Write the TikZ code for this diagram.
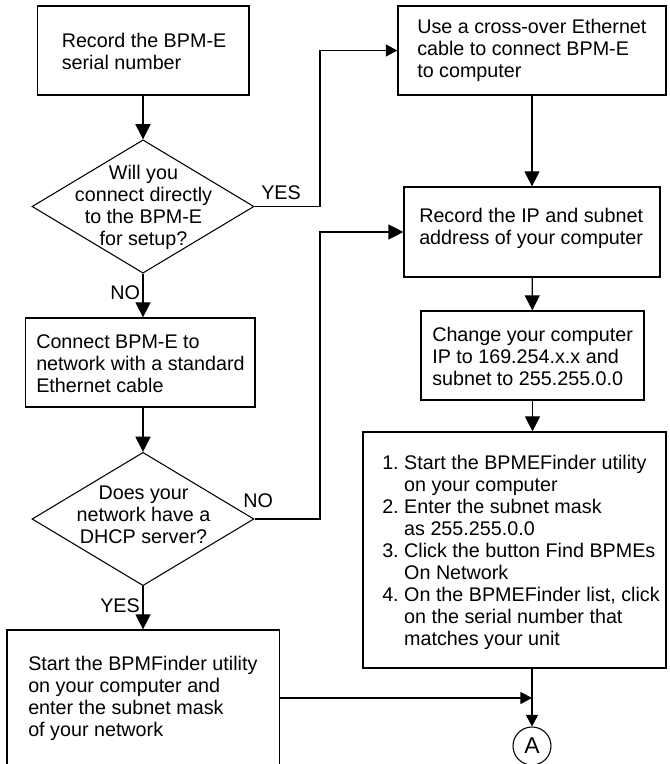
\documentclass[tikz,border=0pt]{standalone}
\usepackage{fontspec}
\setmainfont{Liberation Sans}
\usetikzlibrary{arrows.meta,shapes.geometric}
\tikzset{
  proc/.style={draw=black,rectangle,inner sep=0pt,line width=0.9pt},
  dec/.style={draw=black,diamond,inner sep=0pt,line width=0.8pt,minimum width=166.5pt,minimum height=100pt,aspect=1.67},
  conn/.style={draw=black,circle,inner sep=0pt,line width=0.8pt,minimum size=28.5pt},
  txt/.style={inner sep=0pt,align=left,anchor=base west,font=\frenchspacing\fontsize{14.8}{16.5}\selectfont},
  ctxt/.style={inner sep=0pt,align=center,anchor=base,font=\frenchspacing\fontsize{14.8}{16.5}\selectfont},
  lab/.style={inner sep=0pt,anchor=base west,font=\fontsize{14.8}{16.5}\selectfont},
  flow/.style={draw=black,line width=0.9pt,-{Triangle[length=11.3pt,width=11.3pt]}},
  flowsmall/.style={draw=black,line width=0.9pt,-{Triangle[length=8.7pt,width=9pt]}},
}
\begin{document}
\begin{tikzpicture}[x=0.75pt,y=-0.75pt]
\useasboundingbox (0,0) rectangle (669,764);
% boxes
\node[proc,minimum width=158.6pt,minimum height=66.8pt] (b1) at (143.2,50.5) {};
\node[dec] (d1) at (143,206.5) {};
\node[proc,minimum width=172pt,minimum height=66.8pt] (b2) at (140.3,362.5) {};
\node[dec] (d2) at (143,519) {};
\node[proc,minimum width=204.4pt,minimum height=102pt] (b3) at (143.2,698) {};
\node[proc,minimum width=201pt,minimum height=66.8pt] (r1) at (532,50.5) {};
\node[proc,minimum width=192pt,minimum height=67.5pt] (r2) at (532,232) {};
\node[proc,minimum width=167.3pt,minimum height=66.8pt] (r3) at (532.5,355.5) {};
\node[proc,minimum width=227.3pt,minimum height=177pt] (r4) at (514.5,550) {};
\node[conn] (a) at (532,746) {\fontsize{17.2}{17.2}\selectfont A};
% texts
\node[txt] (t1) at (61.5,69) {Record the BPM-E\\serial number};
\node[ctxt] (td1) at (143.5,245) {Will you\\connect directly\\to the BPM-E\\for setup?};
\node[txt] (t2) at (36,392) {Connect BPM-E to\\network with a standard\\Ethernet cable};
\node[ctxt] (td2) at (143.5,543) {Does your\\network have a\\DHCP server?};
\node[txt] (t3) at (28,736) {Start the BPMFinder utility\\on your computer and\\enter the subnet mask\\of your network};
\node[txt] (tr1) at (417,77) {Use a cross-over Ethernet\\cable to connect BPM-E\\to computer};
\node[txt] (tr2) at (419,244) {Record the IP and subnet\\address of your computer};
\node[txt] (tr3) at (432,385) {Change your computer\\IP to 169.254.x.x and\\subnet to 255.255.0.0};
\node[txt] (tr4) at (382,645) {1. Start the BPMEFinder utility\\
\phantom{1. }on your computer\\
2. Enter the subnet mask\\
\phantom{2. }as 255.255.0.0\\
3. Click the button Find BPMEs\\
\phantom{3. }On Network\\
4. On the BPMEFinder list, click\\
\phantom{4. }on the serial number that\\
\phantom{4. }matches your unit};
% branch labels
\node[lab] (yes1) at (261,199) {YES};
\node[lab] (no1) at (110,299) {NO};
\node[lab] (no2) at (243,507) {NO};
\node[lab] (yes2) at (100,612) {YES};
% bends and joins
\coordinate (e1) at (320,206.5);
\coordinate (e2) at (320,519);
% connectors
\draw[flow] (b1.south -| d1.north) -- (d1.north);
\draw[flow] (d1.south) -- (d1.south |- b2.north);
\draw[flow] (b2.south -| d2.north) -- (d2.north);
\draw[flow] (d2.south) -- (d2.south |- b3.north);
\draw[flowsmall] (d1.east) -- (e1) |- (r1.west);
\draw[flow] (d2.east) -- (e2) |- (r2.west);
\draw[flow] (r1) -- (r2);
\draw[flow] (r2) -- (r3);
\draw[flow] (r3.south) -- (r3.south |- r4.north);
\draw[flowsmall] (a.north |- r4.south) -- (a.north);
\draw[flowsmall] (b3.east) -- (b3.east -| a.north);
\end{tikzpicture}
\end{document}
